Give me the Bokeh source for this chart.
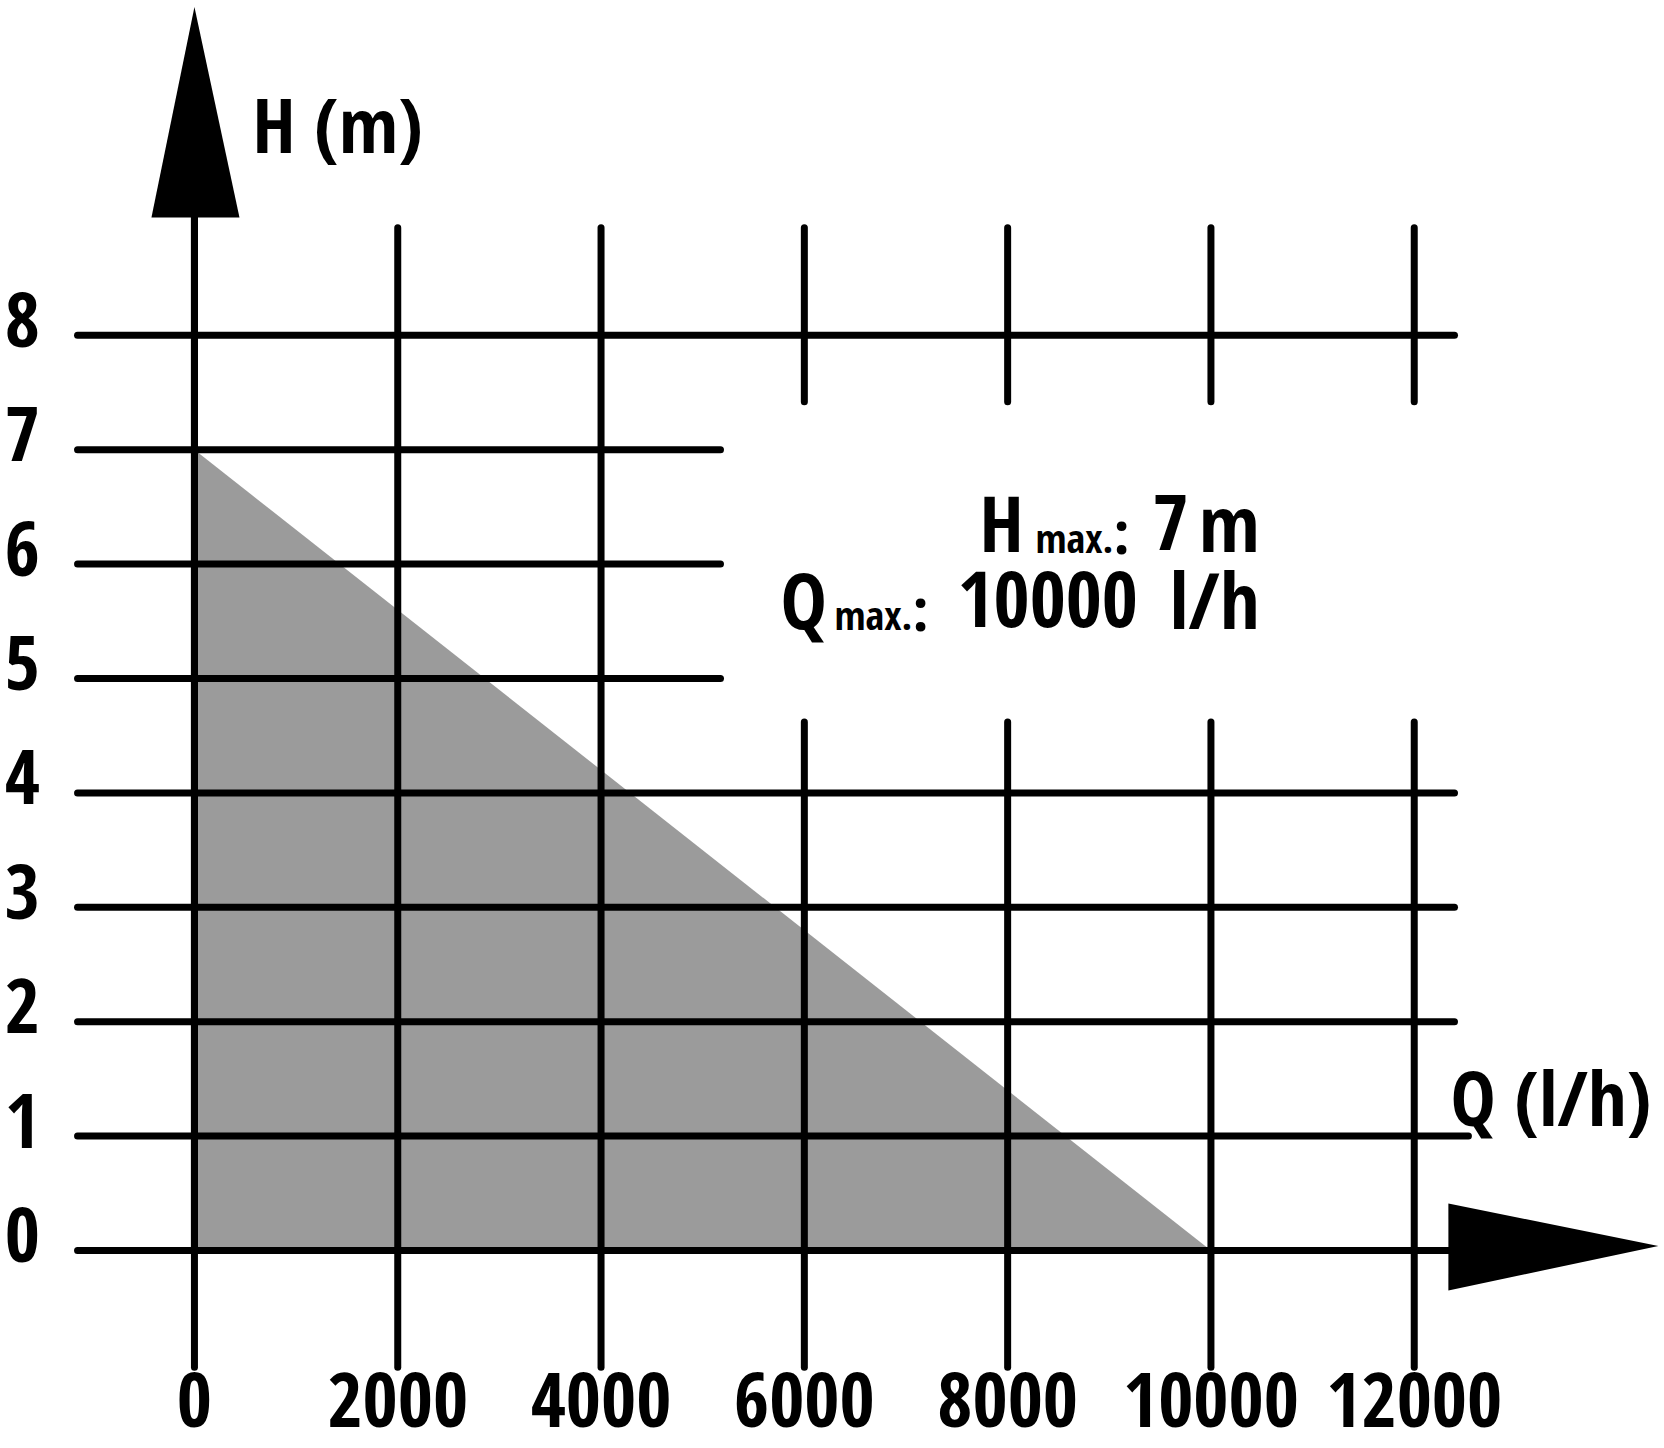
from bokeh.plotting import figure
from bokeh.models import Range1d
from bokeh.core.properties import value
from bokeh.embed import file_html
from bokeh.resources import INLINE

# ---------------- data ----------------
flow_ticks = [0, 2000, 4000, 6000, 8000, 10000, 12000]      # Q (l/h)
head_ticks = [0, 1, 2, 3, 4, 5, 6, 7, 8]                    # H (m)
flow_labels = [str(v) for v in flow_ticks]
head_labels = [str(v) for v in head_ticks]
curve_q = [0, 10000, 0]        # performance area: Q values
curve_h = [7, 0, 0]            # performance area: H values
h_max_text = "7"
q_max_text = "10000"

# ---------------- layout (not data) ----------------
W, H = 1664, 1448
FONT = value("Open Sans Condensed")
LW = 7

h_left = -1150
h_right = {0: 12336, 1: 12533, 2: 12396, 3: 12396, 4: 12396,
           5: 5175, 6: 5175, 7: 5175, 8: 12396}
v_bottom = -1.02
v_top = {0: 9.03}
v_top_default = 8.94
gap_lo, gap_hi = 4.62, 7.42

p = figure(width=W, height=H, output_backend="svg", toolbar_location=None,
           x_range=Range1d(-1908, 14462), y_range=Range1d(-1.731, 10.927),
           min_border=0, min_border_left=0, min_border_right=0,
           min_border_top=0, min_border_bottom=0)
p.axis.visible = False
p.grid.visible = False
p.outline_line_color = None
p.background_fill_color = "white"
p.border_fill_color = "white"

# gray performance area
p.patch(curve_q, curve_h, fill_color="#9b9b9b", line_color=None)

# horizontal lines
hx0, hx1, hy = [], [], []
for h in head_ticks:
    hx0.append(h_left); hx1.append(h_right[h]); hy.append(h)
p.segment(x0=hx0, y0=hy, x1=hx1, y1=hy, line_color="black", line_width=LW, line_cap="round")

# vertical lines
vx, vy0, vy1 = [], [], []
for q in flow_ticks:
    top = v_top.get(q, v_top_default)
    if q >= 6000:
        vx += [q, q]; vy0 += [v_bottom, gap_hi]; vy1 += [gap_lo, top]
    else:
        vx.append(q); vy0.append(v_bottom); vy1.append(top)
p.segment(x0=vx, y0=vy0, x1=vx, y1=vy1, line_color="black", line_width=LW, line_cap="round")
p.segment(x0=[0], y0=[0], x1=[0], y1=[9.1], line_color="black", line_width=LW)

# arrows
p.patch([-423, 443, 0], [9.03, 9.03, 10.87], fill_color="black", line_color=None)
p.patch([12336, 12336, 14402], [0.41, -0.35, 0.04], fill_color="black", line_color=None)

common = dict(text_font=FONT, text_font_style="bold", text_color="black",
              text_baseline="alphabetic")

# tick labels (text renders centred on its anchor)
p.text(x=[-1692] * len(head_ticks), y=head_ticks, text=head_labels,
       text_font_size="76px", text_align="center", y_offset=-16, **common)
p.text(x=flow_ticks, y=[0] * len(flow_ticks), text=flow_labels,
       text_font_size="76px", text_align="center", y_offset=149, **common)


def ox(px):
    return px - 194


def oy(py):
    return py - 1250


# axis titles (offsets in pixels from the origin)
p.text(x=[0], y=[0], text=["H (m)"], text_font_size="76px", text_align="left",
       x_offset=ox(252), y_offset=oy(123), **common)
p.text(x=[0], y=[0], text=["Q (l/h)"], text_font_size="76px", text_align="left",
       x_offset=ox(1450), y_offset=oy(1096), **common)

# annotation H max / Q max
p.text(x=[0, 0], y=[0, 0], text=["H", "Q"], text_font_size="78px", text_align="left",
       x_offset=[ox(979), ox(780)], y_offset=[oy(522), oy(599)], **common)
p.text(x=[0, 0], y=[0, 0], text=["max.", "max."], text_font_size="40px", text_align="left",
       x_offset=[ox(1035), ox(834)], y_offset=[oy(537), oy(614)], **common)
p.text(x=[0, 0], y=[0, 0], text=[":", ":"], text_font_size="60px", text_align="left",
       x_offset=[ox(1113), ox(912)], y_offset=[oy(531), oy(608)], **common)
p.text(x=[0, 0], y=[0, 0], text=[h_max_text, q_max_text], text_font_size="78px", text_align="left",
       x_offset=[ox(1152), ox(957)], y_offset=[oy(522), oy(599)], **common)
p.text(x=[0, 0], y=[0, 0], text=["m", "l/h"], text_font_size="78px", text_align="right",
       x_offset=[ox(1259), ox(1259)], y_offset=[oy(522), oy(599)], **common)

open("out.html", "w").write(file_html(p, INLINE))
